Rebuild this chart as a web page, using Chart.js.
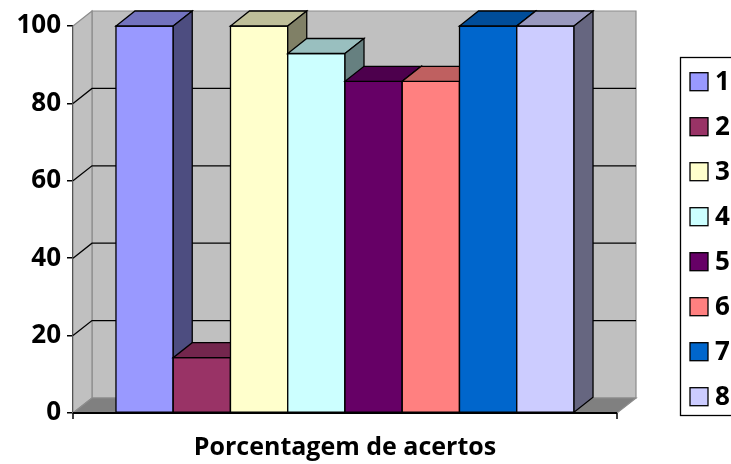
<!DOCTYPE html>
<html><head><meta charset="utf-8">
<script src="https://cdn.jsdelivr.net/npm/chart.js@4/dist/chart.umd.min.js"></script>
<style>html,body{margin:0;padding:0;background:#fff;overflow:hidden}canvas{display:block}</style>
</head><body>
<canvas id="c" width="731" height="464"></canvas>
<script>
const categories = [''];
const seriesLabels = ['1','2','3','4','5','6','7','8'];
const seriesValues = [100, 14.3, 100, 92.9, 85.7, 85.7, 100, 100];
const yTicks = [0, 20, 40, 60, 80, 100];
const axisTitle = 'Porcentagem de acertos';

const colors = ['#9999FF','#993366','#FFFFCC','#CCFFFF','#660066','#FF8080','#0066CC','#CCCCFF'];
const FONT = '"Open Sans", Lato, sans-serif';
const DX = 19, DY = 15;

function shade(hex, f){
  const n = parseInt(hex.slice(1),16);
  const r = Math.round(((n>>16)&255)*f), g = Math.round(((n>>8)&255)*f), b = Math.round((n&255)*f);
  return 'rgb('+r+','+g+','+b+')';
}
function poly(ctx, pts, fill, stroke, lw){
  ctx.beginPath();
  ctx.moveTo(pts[0][0], pts[0][1]);
  for(let i=1;i<pts.length;i++) ctx.lineTo(pts[i][0], pts[i][1]);
  ctx.closePath();
  if(fill){ctx.fillStyle=fill;ctx.fill();}
  if(stroke){ctx.strokeStyle=stroke;ctx.lineWidth=lw||1;ctx.stroke();}
}

const threeD = {
  id: 'threeD',
  beforeDatasetsDraw(chart){
    const ctx = chart.ctx, a = chart.chartArea, ys = chart.scales.y;
    const L=a.left, R=a.right, T=ys.getPixelForValue(100), B=ys.getPixelForValue(0);
    ctx.save();
    poly(ctx, [[L+DX,T-DY],[R+DX,T-DY],[R+DX,B-DY],[L+DX,B-DY]], '#C0C0C0', '#8C8C8C', 1.2);
    poly(ctx, [[L,T],[L+DX,T-DY],[L+DX,B-DY],[L,B]], '#C0C0C0', '#8C8C8C', 1.2);
    poly(ctx, [[L,B],[R,B],[R+DX,B-DY],[L+DX,B-DY]], '#808080', '#8C8C8C', 1.2);
    ctx.strokeStyle='#000'; ctx.lineWidth=1.3;
    yTicks.forEach(v=>{
      if(v===0||v===100) return;
      const y = ys.getPixelForValue(v);
      ctx.beginPath();
      ctx.moveTo(L,y); ctx.lineTo(L+DX,y-DY); ctx.lineTo(R+DX,y-DY);
      ctx.stroke();
    });
    ctx.restore();
  },
  afterDatasetsDraw(chart){
    const ctx = chart.ctx;
    ctx.save();
    ctx.lineJoin='miter';
    chart.data.datasets.forEach((ds,i)=>{
      const meta = chart.getDatasetMeta(i);
      meta.data.forEach(bar=>{
        const l = bar.x - bar.width/2, r = bar.x + bar.width/2, t = bar.y, b = bar.base;
        const c = colors[i];
        poly(ctx, [[l,t],[r,t],[r,b],[l,b]], c, '#000', 1.3);
        poly(ctx, [[l,t],[r,t],[r+DX,t-DY],[l+DX,t-DY]], shade(c,0.75), '#000', 1.3);
        poly(ctx, [[r,t],[r+DX,t-DY],[r+DX,b-DY],[r,b]], shade(c,0.5), '#000', 1.3);
      });
    });
    const a = chart.chartArea, B = chart.scales.y.getPixelForValue(0);
    ctx.strokeStyle='#000'; ctx.lineWidth=2;
    ctx.beginPath(); ctx.moveTo(a.left,B); ctx.lineTo(a.right,B); ctx.stroke();
    ctx.lineWidth=1.5;
    ctx.beginPath(); ctx.moveTo(a.right,B); ctx.lineTo(a.right,B+6); ctx.stroke();
    ctx.beginPath(); ctx.moveTo(a.left,B); ctx.lineTo(a.left,B+6); ctx.stroke();
    ctx.restore();
  },
  afterDraw(chart){
    const ctx = chart.ctx;
    ctx.save();
    ctx.strokeStyle='#000'; ctx.lineWidth=1.3;
    ctx.strokeRect(680.5, 57.5, 80, 358);
    ctx.font = 'bold 26px ' + FONT;
    ctx.textBaseline='middle'; ctx.textAlign='left';
    chart.data.datasets.forEach((ds,i)=>{
      const cy = 81.7 + i*45;
      ctx.fillStyle = colors[i];
      ctx.fillRect(690, cy-9, 18, 18);
      ctx.strokeStyle='#000'; ctx.lineWidth=1.3;
      ctx.strokeRect(690, cy-9, 18, 18);
      ctx.fillStyle='#000';
      ctx.fillText(ds.label, 715, cy+1);
    });
    ctx.restore();
  }
};

const datasets = seriesLabels.map((lab,i)=>({
  label: lab,
  data: [seriesValues[i]],
  backgroundColor: colors[i],
  borderColor: '#000',
  borderWidth: 1
}));

new Chart(document.getElementById('c'), {
  type: 'bar',
  data: { labels: categories, datasets },
  options: {
    responsive: false,
    animation: false,
    devicePixelRatio: 1,
    layout: { padding: { left: 0, top: 26, right: 731-617, bottom: 0 } },
    datasets: { bar: { categoryPercentage: 0.842, barPercentage: 1 } },
    plugins: { legend: { display: false }, tooltip: { enabled: false } },
    scales: {
      x: {
        grid: { display: false },
        border: { display: false },
        ticks: { display: false },
        title: { display: true, text: axisTitle, color: '#000',
                 font: { family: FONT, size: 25, weight: 'bold' }, padding: { top: 0, bottom: 1 } },
        afterFit(s){ s.height = 464-413; }
      },
      y: {
        min: 0, max: 100,
        afterBuildTicks(s){ s.ticks = yTicks.map(v=>({value:v})); },
        grid: { drawOnChartArea: false, drawTicks: true, tickLength: 6, color: '#000', lineWidth: 1.5 },
        border: { display: true, color: '#000', width: 2 },
        ticks: { color: '#000', padding: 6, font: { family: FONT, size: 26, weight: 'bold' } },
        afterFit(s){ s.width = 73; }
      }
    }
  },
  plugins: [threeD]
});
</script>
</body></html>
